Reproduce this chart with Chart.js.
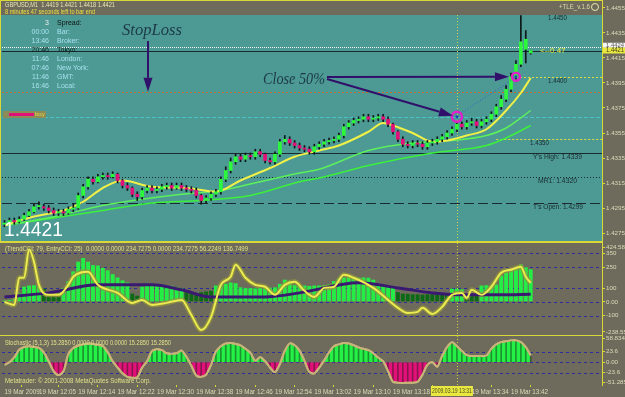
<!DOCTYPE html>
<html>
<head>
<meta charset="utf-8">
<script src="https://cdn.jsdelivr.net/npm/chart.js@4.4.0/dist/chart.umd.min.js"></script>
<style>
  html, body { margin: 0; padding: 0; background: #6e6b5c; }
  #wrap { position: relative; width: 625px; height: 397px; overflow: hidden; }
  canvas { position: absolute; left: 0; }
  .sep { position: absolute; left: 0; width: 603px; background: #d8d838; }
</style>
</head>
<body>
<div id="wrap">
  <canvas id="price" width="625" height="241" style="top:0"></canvas>
  <div class="sep" style="top:241px;height:2px"></div>
  <canvas id="cci" width="625" height="92" style="top:243px"></canvas>
  <div class="sep" style="top:335px;height:1px"></div>
  <canvas id="stoch" width="625" height="61" style="top:336px"></canvas>
</div>
<script>
const TEAL = "#4c9a93";
const GRAY = "#6e6b5c";
const AXIS = "#d8d838";
const LABEL = "#dcdcb8";
const DARK = "#1a2a30";
const ARROW = "#30106a";
const FONT = "'Liberation Sans', 'DejaVu Sans', sans-serif";
const SERIF = "'Liberation Serif', 'DejaVu Serif', serif";

// 108 one-minute bars, the rest of the slots is the empty shift margin on the right
const SLOTS = 122;
const slots = Array.from({ length: SLOTS }, (_, i) => i);

// GBPUSD M1 candles, 11:58 .. 13:46
const opens = [
  1.4282, 1.4283, 1.4285, 1.4284, 1.4286, 1.4289, 1.4292, 1.4296, 1.4296, 1.4295,
  1.4293, 1.4291, 1.4292, 1.4291, 1.4294, 1.4295, 1.4305, 1.4312, 1.4318, 1.4316,
  1.4320, 1.4321, 1.4320, 1.4322, 1.4317, 1.4313, 1.4311, 1.4306, 1.4304, 1.4309,
  1.4311, 1.4309, 1.4310, 1.4312, 1.4313, 1.4311, 1.4313, 1.4311, 1.4310, 1.4309,
  1.4305, 1.4301, 1.4303, 1.4306, 1.4308, 1.4318, 1.4325, 1.4332, 1.4336, 1.4334,
  1.4337, 1.4336, 1.4340, 1.4338, 1.4333, 1.4332, 1.4338, 1.4348, 1.4350, 1.4347,
  1.4345, 1.4343, 1.4342, 1.4340, 1.4344, 1.4346, 1.4348, 1.4349, 1.4350, 1.4353,
  1.4360, 1.4363, 1.4365, 1.4366, 1.4368, 1.4366, 1.4367, 1.4368, 1.4366, 1.4362,
  1.4356, 1.4350, 1.4346, 1.4345, 1.4347, 1.4346, 1.4344, 1.4347, 1.4348, 1.4350,
  1.4352, 1.4355, 1.4358, 1.4362, 1.4360, 1.4363, 1.4364, 1.4361, 1.4364, 1.4366,
  1.4370, 1.4376, 1.4382, 1.4390, 1.4400, 1.4410, 1.4422, 1.4419
];
const highs = [
  1.4285, 1.4287, 1.4287, 1.4288, 1.4291, 1.4294, 1.4298, 1.4300, 1.4298, 1.4297,
  1.4295, 1.4294, 1.4294, 1.4296, 1.4298, 1.4307, 1.4314, 1.4320, 1.4320, 1.4322,
  1.4323, 1.4323, 1.4324, 1.4323, 1.4318, 1.4315, 1.4312, 1.4308, 1.4311, 1.4313,
  1.4313, 1.4312, 1.4314, 1.4315, 1.4315, 1.4315, 1.4315, 1.4313, 1.4312, 1.4311,
  1.4306, 1.4305, 1.4308, 1.4310, 1.4320, 1.4328, 1.4335, 1.4338, 1.4338, 1.4339,
  1.4339, 1.4342, 1.4342, 1.4339, 1.4335, 1.4340, 1.4350, 1.4353, 1.4352, 1.4349,
  1.4347, 1.4345, 1.4344, 1.4346, 1.4348, 1.4350, 1.4351, 1.4352, 1.4355, 1.4362,
  1.4365, 1.4367, 1.4368, 1.4370, 1.4370, 1.4369, 1.4370, 1.4370, 1.4368, 1.4363,
  1.4357, 1.4352, 1.4348, 1.4349, 1.4349, 1.4348, 1.4349, 1.4350, 1.4352, 1.4354,
  1.4357, 1.4360, 1.4364, 1.4364, 1.4365, 1.4367, 1.4366, 1.4366, 1.4368, 1.4372,
  1.4378, 1.4385, 1.4393, 1.4403, 1.4413, 1.4449, 1.4437, 1.4421
];
const lows = [
  1.4280, 1.4282, 1.4282, 1.4283, 1.4285, 1.4288, 1.4291, 1.4294, 1.4293, 1.4291,
  1.4289, 1.4289, 1.4289, 1.4290, 1.4292, 1.4294, 1.4303, 1.4310, 1.4314, 1.4315,
  1.4318, 1.4318, 1.4319, 1.4315, 1.4311, 1.4309, 1.4304, 1.4301, 1.4302, 1.4307,
  1.4307, 1.4307, 1.4308, 1.4310, 1.4309, 1.4310, 1.4309, 1.4308, 1.4307, 1.4303,
  1.4298, 1.4299, 1.4301, 1.4304, 1.4306, 1.4316, 1.4323, 1.4330, 1.4332, 1.4332,
  1.4334, 1.4334, 1.4336, 1.4331, 1.4330, 1.4330, 1.4336, 1.4346, 1.4345, 1.4343,
  1.4341, 1.4340, 1.4338, 1.4338, 1.4342, 1.4344, 1.4346, 1.4347, 1.4348, 1.4351,
  1.4358, 1.4361, 1.4363, 1.4364, 1.4364, 1.4364, 1.4365, 1.4364, 1.4360, 1.4354,
  1.4348, 1.4344, 1.4343, 1.4343, 1.4344, 1.4342, 1.4342, 1.4345, 1.4346, 1.4348,
  1.4350, 1.4353, 1.4356, 1.4358, 1.4358, 1.4361, 1.4359, 1.4359, 1.4362, 1.4364,
  1.4368, 1.4374, 1.4380, 1.4388, 1.4398, 1.4408, 1.4411, 1.4418
];
const closes = [
  1.4283, 1.4285, 1.4284, 1.4286, 1.4289, 1.4292, 1.4296, 1.4297, 1.4295, 1.4293,
  1.4291, 1.4292, 1.4291, 1.4294, 1.4295, 1.4305, 1.4312, 1.4318, 1.4316, 1.4320,
  1.4321, 1.4320, 1.4322, 1.4317, 1.4313, 1.4311, 1.4306, 1.4304, 1.4309, 1.4311,
  1.4309, 1.4310, 1.4312, 1.4313, 1.4311, 1.4313, 1.4311, 1.4310, 1.4309, 1.4305,
  1.4301, 1.4303, 1.4306, 1.4308, 1.4318, 1.4325, 1.4332, 1.4336, 1.4334, 1.4337,
  1.4336, 1.4340, 1.4338, 1.4333, 1.4332, 1.4338, 1.4348, 1.4350, 1.4347, 1.4345,
  1.4343, 1.4342, 1.4340, 1.4344, 1.4346, 1.4348, 1.4349, 1.4350, 1.4353, 1.4360,
  1.4363, 1.4365, 1.4366, 1.4368, 1.4366, 1.4367, 1.4368, 1.4366, 1.4362, 1.4356,
  1.4350, 1.4346, 1.4345, 1.4347, 1.4346, 1.4344, 1.4347, 1.4348, 1.4350, 1.4352,
  1.4355, 1.4358, 1.4362, 1.4360, 1.4363, 1.4364, 1.4361, 1.4364, 1.4366, 1.4370,
  1.4376, 1.4382, 1.4390, 1.4400, 1.4410, 1.4428, 1.4430, 1.4421
];

// moving averages as [bar, price]
const maYellow = [
  [0, 1.4281], [3, 1.4285], [7, 1.4289], [12, 1.4293], [16, 1.4300], [20, 1.4311], [24, 1.4317],
  [30, 1.4312], [37, 1.4311], [43, 1.4308], [48, 1.4317], [54, 1.4327], [59, 1.4336], [64, 1.4341],
  [68, 1.4345], [74, 1.4356], [77, 1.4363], [79, 1.4361], [83, 1.4355], [87, 1.4348], [90, 1.4349],
  [94, 1.4353], [98, 1.4358], [102, 1.4373], [105, 1.4387], [107, 1.4399]
];
const maGreenFast = [
  [0, 1.4281], [10, 1.4288], [20, 1.4297], [28, 1.4302], [36, 1.4306], [44, 1.4309], [52, 1.4316],
  [60, 1.4323], [64, 1.4326], [74, 1.4341], [83, 1.4347], [91, 1.4349], [98, 1.4353], [102, 1.4359],
  [107, 1.4373]
];
const maGreenSlow = [
  [0, 1.4281], [10, 1.4287], [20, 1.4293], [30, 1.4299], [40, 1.4301], [50, 1.4305], [60, 1.4316],
  [64, 1.4319], [74, 1.4329], [87, 1.4339], [98, 1.4345], [102, 1.4351], [107, 1.4361]
];

const priceTicks = [1.4455, 1.4435, 1.4415, 1.4395, 1.4375, 1.4355, 1.4335, 1.4315, 1.4295, 1.4275];
const priceMin = 1.42686;
const priceMax = 1.44614;
const askPrice = 1.4424;
const bidPrice = 1.4421;
const stopPrice = 1.4388;
const entryPrice = 1.4368;
const pivotLevels = [1.4339, 1.4320, 1.4299];
const pivotNames = ["Y's High: 1.4339", "MR1: 1.4320", "T's Open: 1.4299"];
const targetLevels = [1.4450, 1.4400, 1.4350];
const targetNames = ["1.4450", "1.4400", "1.4350"];
const targetFromBar = [104, 104, 100];
const entryBar = 92;
const closeBar = 104;

const sessionTimes = ["00:00", "13:46", "20:46", "11:46", "07:46", "11:46", "16:46"];
const sessionNames = ["Bar:", "Broker:", "Tokyo:", "London:", "New York:", "GMT:", "Local:"];
const spread = "3";

// CCI window
const cciTrend = [
  10, 15, 20, 60, 110, 118, 120, 115, 95, 60, 55, 70, 100, 150, 220, 290, 316, 290, 265, 262,
  245, 228, 200, 176, 155, 140, 60, 45, 110, 118, 118, 116, 116, 117, 116, 105, 100, 70, 65, 60,
  70, 75, 80, 118, 120, 130, 140, 135, 105, 100, 100, 98, 100, 100, 102, 105, 130, 160, 150, 120,
  118, 118, 115, 118, 118, 120, 125, 150, 170, 176, 178, 176, 175, 176, 174, 160, 130, 118, 115, 110,
  70, 60, 58, 55, 55, 52, 55, 55, 58, 60, 60, 95, 95, 90, 55, 50, 55, 118, 120, 118,
  125, 190, 210, 230, 245, 270, 250, 235
];
const cciDarkRanges = [[8, 11], [26, 27], [37, 42], [80, 90], [94, 96]];
const cciSignal = [
  [0, 36], [9, 65], [19, 123], [30, 123], [36, 87], [42, 36], [53, 36], [60, 65], [72, 138],
  [80, 101], [87, 65], [94, 51], [101, 51], [107, 56]
];
const cciEntry = [
  [0, 0], [2, -22], [3, 174], [4, 174], [5, 377], [6, 290], [7, 123], [9, 51], [11, 51], [13, 123],
  [14, 181], [17, 217], [19, 123], [23, 65], [26, -7], [28, 14], [30, -22], [33, -7], [36, 14],
  [38, -94], [40, -203], [42, -109], [44, 123], [46, 181], [47, 268], [49, 174], [51, 123], [53, 109],
  [55, 51], [57, 123], [59, 145], [61, 80], [63, 36], [65, 101], [67, 109], [69, 196], [71, 174],
  [75, 101], [78, 14], [80, -43], [82, -80], [84, -72], [85, -43], [87, -87], [89, -36], [91, 51],
  [93, 65], [94, 29], [95, 87], [97, 51], [99, 109], [101, 210], [103, 232], [105, 254], [106, 181],
  [107, 137]
];
const cciMin = -238.556;
const cciMax = 424.587;
const cciLevels = [350, 250, 100, 0, -100];
const cciTickVals = [395, 350, 250, 100, 0, -100, -216];
const cciTickText = ["424.587", "350", "250", "100", "0.00", "-100", "-238.556"];

// centred stochastic window
const stochValues = [
  -6, 0, 11, 28, 34, 36, 34, 32, 22, 2, -20, -29, -20, 18, 32, 37, 40, 42, 41, 39,
  36, 22, 2, -12, -25, -33, -35, -34, -12, 2, 25, 29, 27, 20, 19, 20, 26, 12, -8, -30,
  -33, -28, -6, 24, 36, 42, 43, 41, 38, 30, 21, 3, 11, 2, -12, -22, -4, 25, 42, 38,
  26, 3, -22, -25, -12, 4, 22, 36, 40, 43, 42, 38, 33, 30, 27, 20, 10, 2, -20, -44,
  -46, -47, -46, -46, -44, -28, -6, 0, -10, 14, 34, 45, 36, 25, 16, 14, 14, 14, 15, 30,
  40, 45, 47, 49, 49, 45, 34, 15
];
const stochMin = -51.285;
const stochMax = 58.834;
const stochLevels = [23.6, 0, -23.6];
const stochTickVals = [54, 23.6, 0, -23.6, -46];
const stochTickText = ["58.834", "23.6", "0.00", "-23.6", "-51.2850"];

const timeTickIdx = [0, 7, 15, 23, 31, 39, 47, 55, 63, 71, 79, 95, 103];
const timeTickText = [
  "19 Mar 2009", "19 Mar 12:05", "19 Mar 12:14", "19 Mar 12:22", "19 Mar 12:30", "19 Mar 12:38",
  "19 Mar 12:46", "19 Mar 12:54", "19 Mar 13:02", "19 Mar 13:10", "19 Mar 13:18", "19 Mar 13:34",
  "19 Mar 13:42"
];
const cursorText = "2009.03.19 13:31";

// ---------- helpers ----------
function pad(arr) {
  return slots.map(i => (i < arr.length ? arr[i] : null));
}
function pairs(list) {
  return list.map(([x, y]) => ({ x, y }));
}
function isDark(i) {
  return cciDarkRanges.some(([a, b]) => i >= a && i <= b);
}

function hline(ctx, x1, x2, y, color, dash, width) {
  ctx.save();
  ctx.strokeStyle = color;
  ctx.lineWidth = width || 1;
  ctx.setLineDash(dash || []);
  ctx.beginPath();
  ctx.moveTo(x1, Math.round(y) + 0.5);
  ctx.lineTo(x2, Math.round(y) + 0.5);
  ctx.stroke();
  ctx.restore();
}

function vline(ctx, x, y1, y2, color, dash) {
  ctx.save();
  ctx.strokeStyle = color;
  ctx.lineWidth = 1;
  ctx.setLineDash(dash || []);
  ctx.beginPath();
  ctx.moveTo(Math.round(x) + 0.5, y1);
  ctx.lineTo(Math.round(x) + 0.5, y2);
  ctx.stroke();
  ctx.restore();
}

function arrow(ctx, x1, y1, x2, y2, color) {
  const a = Math.atan2(y2 - y1, x2 - x1);
  const len = 14, half = 4.5;
  const bx = x2 - len * Math.cos(a), by = y2 - len * Math.sin(a);
  ctx.save();
  ctx.strokeStyle = color;
  ctx.fillStyle = color;
  ctx.lineWidth = 2;
  ctx.beginPath();
  ctx.moveTo(x1, y1);
  ctx.lineTo(bx, by);
  ctx.stroke();
  ctx.beginPath();
  ctx.moveTo(x2, y2);
  ctx.lineTo(bx - half * Math.sin(a), by + half * Math.cos(a));
  ctx.lineTo(bx + half * Math.sin(a), by - half * Math.cos(a));
  ctx.closePath();
  ctx.fill();
  ctx.restore();
}

function text(ctx, s, x, y, color, font, align, maxW) {
  ctx.save();
  ctx.fillStyle = color;
  ctx.font = font;
  ctx.textAlign = align || "left";
  ctx.textBaseline = "middle";
  if (maxW) ctx.fillText(s, x, y, maxW); else ctx.fillText(s, x, y);
  ctx.restore();
}

function xScale(show) {
  return {
    type: "category",
    offset: true,
    display: show,
    afterFit: s => { s.paddingLeft = 0; s.paddingRight = 0; if (show) s.height = 12; },
    grid: { display: show, drawOnChartArea: false, tickLength: 2, color: AXIS },
    border: { display: false },
    ticks: {
      autoSkip: false,
      maxRotation: 0,
      minRotation: 0,
      align: "start",
      padding: 1,
      color: LABEL,
      font: { family: FONT, size: 6.3 },
      callback: (v, idx) => {
        const k = timeTickIdx.indexOf(idx);
        return k >= 0 ? timeTickText[k] : null;
      },
    },
  };
}

function yScale(min, max, vals, labels) {
  return {
    type: "linear",
    position: "right",
    min,
    max,
    afterBuildTicks: s => { s.ticks = vals.map(v => ({ value: v })); },
    afterFit: s => { s.width = 23; s.paddingTop = 0; s.paddingBottom = 0; },
    grid: { drawOnChartArea: false, tickLength: 3, color: AXIS },
    border: { color: AXIS },
    ticks: {
      autoSkip: false,
      padding: 1,
      color: LABEL,
      font: { family: FONT, size: 6.2 },
      callback: (v, idx) => labels[idx],
    },
  };
}

const baseOptions = {
  responsive: false,
  animation: false,
  devicePixelRatio: 1,
  events: [],
  layout: { padding: { left: 2, right: 0, top: 0, bottom: 0 } },
  plugins: { legend: { display: false }, tooltip: { enabled: false } },
};

// ---------- price window ----------
const priceDecor = {
  id: "priceDecor",
  beforeDraw(chart) {
    const { ctx, chartArea: a } = chart;
    ctx.save();
    ctx.fillStyle = GRAY;
    ctx.fillRect(0, 0, chart.width, chart.height);
    ctx.fillStyle = TEAL;
    ctx.fillRect(0, 0, a.right, a.bottom);
    ctx.restore();
  },
  beforeDatasetsDraw(chart) {
    const { ctx, chartArea: a, scales: { x, y } } = chart;
    hline(ctx, a.left, a.right, y.getPixelForValue(stopPrice), "#c0702c", [2, 2]);
    hline(ctx, a.left, a.right, y.getPixelForValue(entryPrice), "#48c4c8", [4, 2]);
    const pivotDash = [[], [1, 2], [10, 4]];
    pivotLevels.forEach((v, k) => hline(ctx, a.left, a.right, y.getPixelForValue(v), DARK, pivotDash[k]));
    targetLevels.forEach((v, k) =>
      hline(ctx, x.getPixelForValue(targetFromBar[k]), a.right, y.getPixelForValue(v), "#e0e040", [2, 2]));
    hline(ctx, a.left, a.right, y.getPixelForValue(askPrice), "#f4f4f4", [1, 1]);
    hline(ctx, a.left, a.right, y.getPixelForValue(bidPrice), DARK, []);
    vline(ctx, x.getPixelForValue(entryBar), a.top, a.bottom, "#d0d050", [1, 2]);
  },
  afterDatasetsDraw(chart) {
    const { ctx, chartArea: a, scales: { x, y } } = chart;
    const f7 = `7px ${FONT}`;

    // level labels
    const targetX = [548, 548, 530];
    targetLevels.forEach((v, k) =>
      text(ctx, targetNames[k], targetX[k], y.getPixelForValue(v) + 4, DARK, f7, "left", 19));
    const pivotX = [533, 538, 533];
    const pivotW = [49, 39, 50];
    pivotLevels.forEach((v, k) =>
      text(ctx, pivotNames[k], pivotX[k], y.getPixelForValue(v) + 4, DARK, f7, "left", pivotW[k]));
    text(ctx, "<--0.47", 540, y.getPixelForValue(bidPrice), "#e8e840", `8px ${FONT}`, "left", 27);

    // trade markers
    const ex = x.getPixelForValue(entryBar), ey = y.getPixelForValue(entryPrice);
    const cx = x.getPixelForValue(closeBar), cy = y.getPixelForValue(1.4400);
    ctx.save();
    ctx.strokeStyle = "#3060d0";
    ctx.setLineDash([1, 2]);
    ctx.beginPath();
    ctx.moveTo(ex + 3, ey - 3);
    ctx.lineTo(cx - 2, cy + 2);
    ctx.stroke();
    ctx.setLineDash([]);
    [[ex, ey, 5], [cx, cy, 4]].forEach(([px, py, r]) => {
      ctx.beginPath();
      ctx.arc(px, py, r, 0, Math.PI * 2);
      ctx.lineWidth = 2.5;
      ctx.strokeStyle = "#e020c8";
      ctx.stroke();
      ctx.beginPath();
      ctx.arc(px, py, 1.5, 0, Math.PI * 2);
      ctx.fillStyle = "#2040c0";
      ctx.fill();
    });
    ctx.restore();

    // hand drawn notes
    text(ctx, "StopLoss", 122, 31, "#1d3a48", `italic 17px ${SERIF}`, "left", 60);
    arrow(ctx, 148, 41, 148, y.getPixelForValue(stopPrice), ARROW);
    text(ctx, "Close 50%", 263, 80, "#1d3a48", `italic 17px ${SERIF}`, "left", 62);
    arrow(ctx, 327, 77, cx - 7, cy, ARROW);
    arrow(ctx, 327, 79, ex - 4, ey - 1, ARROW);

    // buy label
    ctx.save();
    ctx.fillStyle = "#8c8c58";
    ctx.fillRect(3, 111, 43, 7);
    ctx.fillStyle = "#e0107a";
    ctx.fillRect(9, 113, 25, 3);
    ctx.restore();
    text(ctx, "buy", 35, 114.5, "#e8d840", `6px ${FONT}`, "left", 10);

    // big bid
    ctx.save();
    ctx.fillStyle = "#ffffff";
    ctx.font = `20px ${FONT}`;
    ctx.textBaseline = "alphabetic";
    ctx.fillText("1.4421", 4, 236, 59);
    ctx.restore();

    // session info
    const f8 = `7px ${FONT}`;
    text(ctx, spread, 49, 22.7, "#f0f0f0", f8, "right");
    text(ctx, "Spread:", 57, 22.7, "#101010", f8);
    sessionTimes.forEach((t, k) => {
      const yy = 31.8 + k * 9.1;
      const c = sessionNames[k] === "Tokyo:" ? "#10201c" : "#a8e0f0";
      text(ctx, t, 49, yy, c, f8, "right");
      text(ctx, sessionNames[k], 57, yy, c, f8);
    });

    // header strip
    ctx.save();
    ctx.fillStyle = GRAY;
    ctx.fillRect(0, 0, a.right, 15);
    ctx.fillStyle = AXIS;
    ctx.fillRect(0, 0, a.right, 1);
    ctx.fillRect(0, 0, 1, a.bottom);
    ctx.restore();
    text(ctx, "GBPUSD,M1  1.4419 1.4421 1.4418 1.4421", 5, 5.5, "#e8e8b0", f7, "left", 110);
    text(ctx, "8 minutes 47 seconds left to bar end", 5, 12, "#e8e040", f7, "left", 90);
    text(ctx, "+TLE_v.1.6", 559, 7, "#dcdca8", f7, "left", 31);
    ctx.save();
    ctx.strokeStyle = "#e8e8a8";
    ctx.beginPath();
    ctx.arc(595, 7, 3.5, 0, Math.PI * 2);
    ctx.stroke();
    ctx.restore();
  },
  afterDraw(chart) {
    const { ctx, chartArea: a, scales: { y } } = chart;
    const ya = y.getPixelForValue(askPrice), yb = y.getPixelForValue(bidPrice);
    ctx.save();
    ctx.fillStyle = "#f4f4f4";
    ctx.fillRect(a.right + 1, ya - 4, 22, 5);
    ctx.fillStyle = "#e8e840";
    ctx.fillRect(a.right + 1, yb - 3, 22, 6);
    ctx.restore();
    text(ctx, "1.4424", a.right + 4, ya - 1.5, "#606060", `6px ${FONT}`, "left", 18);
    text(ctx, "1.4421", a.right + 4, yb, "#404020", `7px ${FONT}`, "left", 18);
  },
};

new Chart(document.getElementById("price"), {
  type: "bar",
  data: {
    labels: slots,
    datasets: [
      {
        type: "line", data: pairs(maGreenSlow), borderColor: "#3cf03c", borderWidth: 1.5,
        pointRadius: 0, cubicInterpolationMode: "monotone", order: 6,
      },
      {
        type: "line", data: pairs(maGreenFast), borderColor: "#5cf05c", borderWidth: 1.5,
        pointRadius: 0, cubicInterpolationMode: "monotone", order: 5,
      },
      {
        type: "line", data: pairs(maYellow), borderColor: "#f0f048", borderWidth: 2,
        pointRadius: 0, cubicInterpolationMode: "monotone", order: 4,
      },
      {
        data: slots.map(i => (i < closes.length ? [lows[i], highs[i]] : null)),
        backgroundColor: "#0e1818", barThickness: 1, grouped: false, order: 3,
      },
      {
        data: slots.map(i => (i < closes.length ? [opens[i], closes[i]] : null)),
        backgroundColor: c => (closes[c.dataIndex] >= opens[c.dataIndex] ? "#2cf83c" : "#e4107a"),
        barThickness: 3, minBarLength: 1, grouped: false, order: 2,
      },
    ],
  },
  options: {
    ...baseOptions,
    scales: { x: xScale(false), y: yScale(priceMin, priceMax, priceTicks, priceTicks.map(v => v.toFixed(4))) },
  },
  plugins: [priceDecor],
});

// ---------- CCI window ----------
const cciDecor = {
  id: "cciDecor",
  beforeDraw(chart) {
    const { ctx } = chart;
    ctx.save();
    ctx.fillStyle = GRAY;
    ctx.fillRect(0, 0, chart.width, chart.height);
    ctx.restore();
  },
  beforeDatasetsDraw(chart) {
    const { ctx, chartArea: a, scales: { x, y } } = chart;
    cciLevels.forEach(v => hline(ctx, a.left, a.right, y.getPixelForValue(v), "#2c2c9c", [3, 3]));
    vline(ctx, x.getPixelForValue(entryBar), a.top, a.bottom, "#d0d050", [1, 2]);
  },
  afterDatasetsDraw(chart) {
    text(chart.ctx, "(TrendCCI: 79, EntryCCI: 25)  0.0000 0.0000 234.7275 0.0000 234.7275 56.2249 136.7499",
      5, 6, "#e0e088", `7px ${FONT}`, "left", 243);
  },
};

new Chart(document.getElementById("cci"), {
  type: "bar",
  data: {
    labels: slots,
    datasets: [
      {
        data: pad(cciTrend),
        backgroundColor: c => (isDark(c.dataIndex) ? "#0c6a16" : "#24ee46"),
        barPercentage: 1, categoryPercentage: 0.8, order: 4,
      },
      {
        type: "line", data: pairs(cciEntry), borderColor: "rgba(150,150,60,0.75)", borderWidth: 5,
        pointRadius: 0, cubicInterpolationMode: "monotone", order: 3,
      },
      {
        type: "line", data: pairs(cciSignal), borderColor: "#3a1a70", borderWidth: 3,
        pointRadius: 0, cubicInterpolationMode: "monotone", order: 2,
      },
      {
        type: "line", data: pairs(cciEntry), borderColor: "#ecec50", borderWidth: 2,
        pointRadius: 0, cubicInterpolationMode: "monotone", order: 1,
      },
    ],
  },
  options: {
    ...baseOptions,
    scales: { x: xScale(false), y: yScale(cciMin, cciMax, cciTickVals, cciTickText) },
  },
  plugins: [cciDecor],
});

// ---------- stochastic window ----------
const stochDecor = {
  id: "stochDecor",
  beforeDraw(chart) {
    const { ctx } = chart;
    ctx.save();
    ctx.fillStyle = GRAY;
    ctx.fillRect(0, 0, chart.width, chart.height);
    ctx.restore();
  },
  beforeDatasetsDraw(chart) {
    const { ctx, chartArea: a, scales: { x, y } } = chart;
    stochLevels.forEach(v => hline(ctx, a.left, a.right, y.getPixelForValue(v), "#2c2c9c", [3, 3]));
    vline(ctx, x.getPixelForValue(entryBar), a.top, a.bottom, "#d0d050", [1, 2]);
  },
  afterDatasetsDraw(chart) {
    const f7 = `7px ${FONT}`;
    text(chart.ctx, "Stochastic (5,1,3) 15.2850 0.0000 0.0000 0.0000 15.2850 15.2850", 5, 7, "#e0e088", f7, "left", 166);
    text(chart.ctx, "Metatrader: \u00a9 2001-2008 MetaQuotes Software Corp.", 5, 45.5, "#e0e088", f7, "left", 146);
  },
  afterDraw(chart) {
    const { ctx, chartArea: a, scales: { x } } = chart;
    const cx = x.getPixelForValue(entryBar);
    ctx.save();
    ctx.fillStyle = "#e8e840";
    ctx.fillRect(cx - 26, a.bottom + 1, 42, 10);
    ctx.restore();
    text(ctx, cursorText, cx - 5, a.bottom + 6, "#505020", `7px ${FONT}`, "center", 40);
  },
};

new Chart(document.getElementById("stoch"), {
  type: "bar",
  data: {
    labels: slots,
    datasets: [
      {
        data: pad(stochValues), backgroundColor: "rgba(20,30,20,0.45)", barThickness: 1, order: 1,
      },
      {
        type: "line", data: pad(stochValues), borderColor: "#c8b478", borderWidth: 2, pointRadius: 0,
        tension: 0.3, fill: { target: { value: 0 }, above: "#24f046", below: "#e4107a" }, order: 2,
      },
      {
        type: "line", data: pad(stochValues), borderColor: "#c8b478", borderWidth: 2, pointRadius: 0,
        tension: 0.3, fill: false, order: 0,
      },
    ],
  },
  options: {
    ...baseOptions,
    scales: { x: xScale(true), y: yScale(stochMin, stochMax, stochTickVals, stochTickText) },
  },
  plugins: [stochDecor],
});
</script>
</body>
</html>
